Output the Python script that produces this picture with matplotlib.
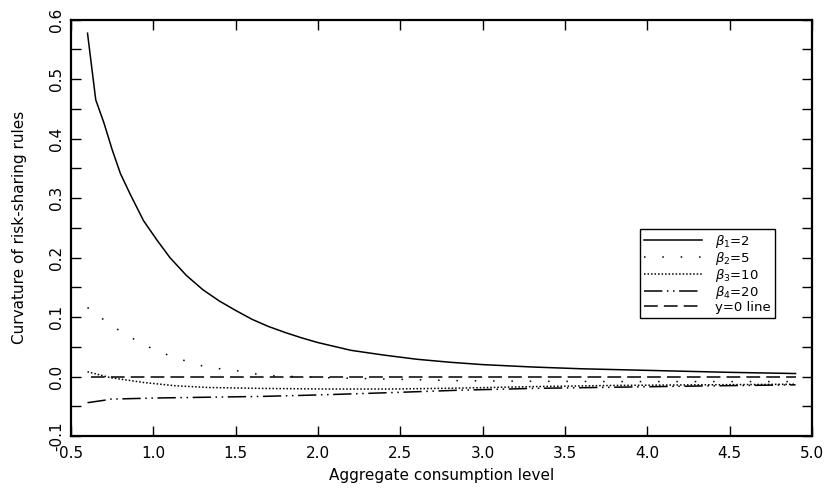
"""
Curvature of risk-sharing rules against aggregate consumption level, for several beta values.
"""

import numpy as np
import matplotlib.pyplot as plt
from matplotlib.ticker import MultipleLocator
from matplotlib.transforms import ScaledTranslation

# ── Data ────────────────────────────────────────────────────────────────────
x_b1 = [0.60, 0.65, 0.70, 0.75, 0.80, 0.86, 0.94, 1.02, 1.10, 1.20, 1.30, 1.40,
        1.50, 1.60, 1.70, 1.80, 1.90, 2.00, 2.20, 2.40, 2.60, 2.80, 3.00, 3.30,
        3.60, 3.90, 4.20, 4.50, 4.90]
y_b1 = [0.577, 0.465, 0.426, 0.381, 0.341, 0.306, 0.262, 0.230, 0.200, 0.170, 0.146, 0.127,
        0.111, 0.096, 0.084, 0.074, 0.065, 0.057, 0.044, 0.036, 0.029, 0.024, 0.020, 0.016,
        0.013, 0.011, 0.009, 0.007, 0.005]

x_b2 = [0.60, 0.71, 0.81, 0.92, 1.02, 1.12, 1.22, 1.32, 1.42, 1.59, 1.65, 2.05,
        2.45, 2.86, 3.30, 3.80, 4.30, 4.90]
y_b2 = [0.116, 0.093, 0.074, 0.057, 0.043, 0.033, 0.024, 0.016, 0.0125, 0.007, 0.002, -0.002,
        -0.0045, -0.007, -0.008, -0.0085, -0.0085, -0.0085]

x_b3 = [0.60, 0.74, 0.94, 1.14, 1.34, 1.65, 2.05, 2.45, 2.86, 3.30, 3.80, 4.30, 4.90]
y_b3 = [0.008, -0.002, -0.010, -0.0157, -0.0185, -0.020, -0.021, -0.021, -0.0195, -0.017,
        -0.015, -0.014, -0.013]

x_b4 = [0.60, 0.70, 0.74, 1.04, 1.65, 2.00, 2.45, 2.86, 3.30, 3.80, 4.30, 4.90]
y_b4 = [-0.044, -0.040, -0.038, -0.036, -0.0335, -0.031, -0.027, -0.023, -0.020, -0.018,
        -0.016, -0.014]

x_zero = [0.62, 4.90]
y_zero = [0.0, 0.0]

labels = [r'$\beta_1$=2', r'$\beta_2$=5', r'$\beta_3$=10', r'$\beta_4$=20', 'y=0 line']

# ── Figure ──────────────────────────────────────────────────────────────────
fig = plt.figure(figsize=(8.29, 4.93), dpi=100)
ax = fig.add_axes([0.0857, 0.1156, 0.8938, 0.8448])

lw = 1.1
ax.plot(x_b1, y_b1, color='k', lw=lw, linestyle='-', label=labels[0])
ax.plot(x_b2, y_b2, color='k', lw=lw, linestyle=(0, (1, 11)), label=labels[1])
ax.plot(x_b3, y_b3, color='k', lw=lw, linestyle=(0, (1, 1.3)), label=labels[2])
ax.plot(x_b4, y_b4, color='k', lw=lw, linestyle=(0, (12, 3, 1, 3, 1, 3)), label=labels[3])
ax.plot(x_zero, y_zero, color='k', lw=lw, linestyle=(0, (9, 4)), label=labels[4])

ax.set_xlim(0.5, 5.0)
ax.set_ylim(-0.1, 0.6)
ax.xaxis.set_major_locator(MultipleLocator(0.5))
ax.yaxis.set_major_locator(MultipleLocator(0.1))
ax.yaxis.set_minor_locator(MultipleLocator(0.05))
ax.xaxis.set_major_formatter(plt.FormatStrFormatter('%.1f'))
ax.yaxis.set_major_formatter(plt.FormatStrFormatter('%.1f'))

ax.tick_params(which='both', direction='in', top=True, right=True, width=1.0)
ax.tick_params(which='major', length=7, labelsize=11, pad=7)
ax.tick_params(which='minor', length=7)
ax.tick_params(axis='y', pad=5)
for spine in ax.spines.values():
    spine.set_linewidth(1.6)

for lab in ax.get_yticklabels():
    lab.set_rotation(90)
    lab.set_va('center')

# nudge the corner labels inward like the original
fig.canvas.draw()
xl = ax.get_xticklabels()
xl[0].set_transform(xl[0].get_transform() + ScaledTranslation(0.14, 0, fig.dpi_scale_trans))
yl = ax.get_yticklabels()
yl[0].set_transform(yl[0].get_transform() + ScaledTranslation(0, 0.08, fig.dpi_scale_trans))

ax.set_xlabel('Aggregate consumption level', fontsize=11, labelpad=5)
ax.set_ylabel('Curvature of risk-sharing rules', fontsize=11, labelpad=16)

leg = ax.legend(loc='upper left', bbox_to_anchor=(0.768, 0.497), borderaxespad=0,
                fontsize=9.5, handlelength=4.4, labelspacing=0.0, handletextpad=1.0,
                borderpad=0.3, fancybox=False, framealpha=1, edgecolor='k')
leg.get_frame().set_linewidth(1.0)

plt.savefig('out.png', dpi=100)
